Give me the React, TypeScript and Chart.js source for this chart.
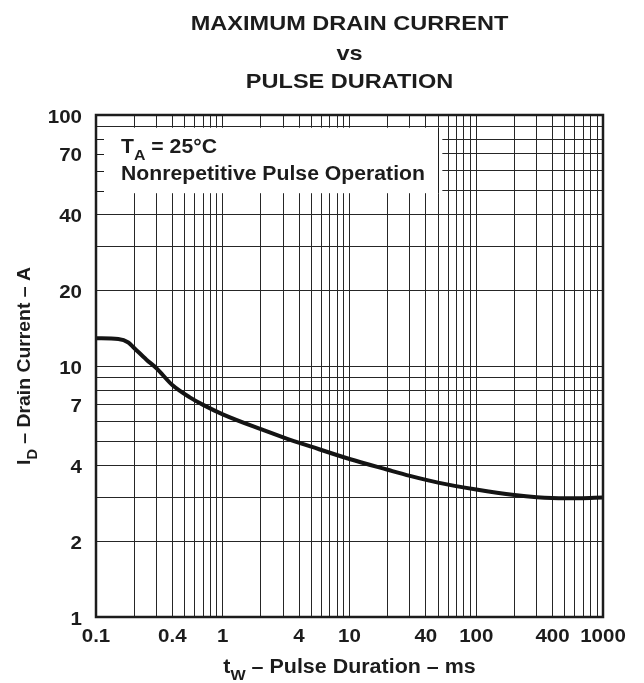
import React, { useEffect, useRef } from "react";
import { Chart, registerables } from "chart.js";

Chart.register(...registerables);

// ---- data ----
const pulseMs = [0.1, 0.15, 0.18, 0.2, 0.25, 0.3, 0.4, 0.55, 0.7, 1, 2, 3, 5, 10, 20, 30, 50, 100, 200, 300, 500, 1000];
const drainA = [12.9, 12.8, 12.4, 11.8, 10.6, 9.8, 8.4, 7.5, 7.0, 6.42, 5.6, 5.2, 4.77, 4.26, 3.86, 3.65, 3.43, 3.22, 3.06, 3.0, 2.97, 2.99];

const xTickLabels = [0.1, 0.4, 1, 4, 10, 40, 100, 400, 1000];
const yTickLabels = [1, 2, 4, 7, 10, 20, 40, 70, 100];
const xDecades = [0.1, 1, 10, 100];
const yDecades = [1, 10];
const mantissas = [1, 2, 3, 4, 5, 6, 7, 8, 9];
const legendBoxStubs = [50, 60, 70, 80];

const titleLines = ["MAXIMUM DRAIN CURRENT", "vs", "PULSE DURATION"];

const FONT = '"Liberation Sans", Arial, Helvetica, sans-serif';
const INK = "#1c1c1c";

function gridValues(decades: number[], last: number) {
  const out: number[] = [];
  decades.forEach((d) => mantissas.forEach((m) => out.push(+(d * m).toPrecision(6))));
  out.push(last);
  return out;
}

type Part = { t: string; sub?: boolean };

function richWidth(ctx: CanvasRenderingContext2D, parts: Part[], size: number, sx: number) {
  let w = 0;
  parts.forEach((p) => {
    ctx.font = `bold ${p.sub ? size * 0.75 : size}px ${FONT}`;
    w += ctx.measureText(p.t).width * sx;
  });
  return w;
}

function drawRich(
  ctx: CanvasRenderingContext2D,
  parts: Part[],
  x: number,
  y: number,
  size: number,
  align: "left" | "center" | "right",
  sx: number
) {
  const w = richWidth(ctx, parts, size, sx);
  let cx = align === "left" ? x : align === "center" ? x - w / 2 : x - w;
  ctx.save();
  ctx.fillStyle = INK;
  ctx.textBaseline = "alphabetic";
  ctx.textAlign = "left";
  parts.forEach((p) => {
    const s = p.sub ? size * 0.75 : size;
    ctx.font = `bold ${s}px ${FONT}`;
    const dy = p.sub ? size * 0.35 : 0;
    ctx.save();
    ctx.translate(cx, y + dy);
    ctx.scale(sx, 1);
    ctx.fillText(p.t, 0, 0);
    ctx.restore();
    cx += ctx.measureText(p.t).width * sx;
  });
  ctx.restore();
}

const decorPlugin = {
  id: "decor",
  beforeDatasetsDraw(chart: any) {
    const { ctx, chartArea: a, scales } = chart;
    const xs = scales.x;
    const ys = scales.y;
    // legend box (white) covering grid
    const top = ys.getPixelForValue(89);
    const bottom = ys.getPixelForValue(48.8);
    const right = xs.getPixelForValue(54);
    ctx.save();
    ctx.fillStyle = "#ffffff";
    ctx.fillRect(a.left + 1, top, right - a.left - 1, bottom - top);
    ctx.strokeStyle = INK;
    ctx.lineWidth = 1;
    const x50 = Math.round(xs.getPixelForValue(50)) + 0.5;
    ctx.beginPath();
    ctx.moveTo(x50, top);
    ctx.lineTo(x50, bottom);
    ctx.stroke();
    legendBoxStubs.forEach((v) => {
      const y = Math.round(ys.getPixelForValue(v)) + 0.5;
      ctx.beginPath();
      ctx.moveTo(a.left, y);
      ctx.lineTo(a.left + 8, y);
      ctx.stroke();
    });
    ctx.restore();

    drawRich(ctx, [{ t: "T" }, { t: "A", sub: true }, { t: " = 25°C" }], a.left + 25, 153, 20, "left", 1.06);
    drawRich(ctx, [{ t: "Nonrepetitive Pulse Operation" }], a.left + 25, 180, 20, "left", 1.06);
  },
  afterDraw(chart: any) {
    const { ctx, chartArea: a, scales } = chart;
    const xs = scales.x;
    const ys = scales.y;
    ctx.save();
    ctx.strokeStyle = INK;
    ctx.lineWidth = 2.5;
    ctx.strokeRect(a.left, a.top, a.right - a.left, a.bottom - a.top);
    ctx.restore();

    const cxMid = (a.left + a.right) / 2;
    const tBase = [30, 60, 88];
    titleLines.forEach((t, i) => drawRich(ctx, [{ t }], cxMid, tBase[i], 21, "center", 1.12));

    yTickLabels.forEach((v) => {
      const y = ys.getPixelForValue(v);
      drawRich(ctx, [{ t: String(v) }], a.left - 14, y + 7.5, 19, "right", 1.08);
    });
    xTickLabels.forEach((v) => {
      const x = xs.getPixelForValue(v);
      drawRich(ctx, [{ t: String(v) }], x, a.bottom + 25, 19, "center", 1.08);
    });

    drawRich(
      ctx,
      [{ t: "t" }, { t: "W", sub: true }, { t: " – Pulse Duration – ms" }],
      cxMid,
      a.bottom + 56,
      19.5,
      "center",
      1.1
    );
    ctx.save();
    ctx.translate(30, (a.top + a.bottom) / 2);
    ctx.rotate(-Math.PI / 2);
    drawRich(ctx, [{ t: "I" }, { t: "D", sub: true }, { t: " – Drain Current – A" }], 0, 0, 19, "center", 1.02);
    ctx.restore();
  },
};

export default function App() {
  const ref = useRef<HTMLCanvasElement | null>(null);
  useEffect(() => {
    if (!ref.current) return;
    const xGrid = gridValues(xDecades, 1000);
    const yGrid = gridValues(yDecades, 100);
    const chart = new Chart(ref.current, {
      type: "line",
      data: {
        datasets: [
          {
            data: pulseMs.map((x, i) => ({ x, y: drainA[i] })),
            borderColor: "#141414",
            borderWidth: 4,
            pointRadius: 0,
            fill: false,
            cubicInterpolationMode: "monotone",
          },
        ],
      },
      options: {
        animation: false,
        responsive: true,
        maintainAspectRatio: false,
        devicePixelRatio: 1,
        layout: { padding: { top: 115, right: 41, left: 0, bottom: 0 } },
        plugins: { legend: { display: false }, tooltip: { enabled: false }, title: { display: false } },
        scales: {
          x: {
            type: "logarithmic",
            min: 0.1,
            max: 1000,
            afterBuildTicks: (s: any) => {
              s.ticks = xGrid.map((v) => ({ value: v }));
            },
            afterFit: (s: any) => {
              s.height = 66;
            },
            ticks: { display: false, autoSkip: false },
            grid: { color: "#262626", lineWidth: 1, drawTicks: false },
            border: { display: false },
          },
          y: {
            type: "logarithmic",
            min: 1,
            max: 100,
            afterBuildTicks: (s: any) => {
              s.ticks = yGrid.map((v) => ({ value: v }));
            },
            afterFit: (s: any) => {
              s.width = 96;
            },
            ticks: { display: false, autoSkip: false },
            grid: { color: "#262626", lineWidth: 1, drawTicks: false },
            border: { display: false },
          },
        },
      },
      plugins: [decorPlugin],
    } as any);
    return () => chart.destroy();
  }, []);
  return (
    <div style={{ position: "fixed", left: 0, top: 0, width: 644, height: 683, background: "#fff" }}>
      <canvas ref={ref} />
    </div>
  );
}
